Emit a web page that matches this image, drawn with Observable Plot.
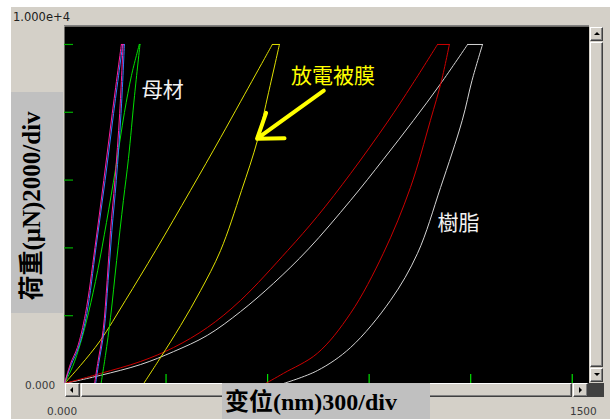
<!DOCTYPE html>
<html>
<head>
<meta charset="utf-8">
<script src="https://cdn.jsdelivr.net/npm/d3@7"></script>
<script src="https://cdn.jsdelivr.net/npm/@observablehq/plot@0.6"></script>
<style>
  body { margin: 0; background: #fff; }
  #win { position: relative; width: 610px; height: 419px; overflow: hidden; background: #fff; }
  .abs { position: absolute; }
  .num { position: absolute; font-family: "DejaVu Sans", sans-serif; font-size: 10.5px; color: #3a3a3a; line-height: 12px; white-space: nowrap; }
  .btn { position: absolute; background: #d4d0c8; box-sizing: border-box;
         border-top: 1px solid #ffffff; border-left: 1px solid #ffffff;
         border-right: 1px solid #404040; border-bottom: 1px solid #404040;
         box-shadow: inset -1px -1px 0 #808080; }
  .tri { position: absolute; width: 0; height: 0; }
  .axlbl { position: absolute; font-family: "Liberation Serif", "Noto Sans CJK SC", serif; font-weight: bold; color: #000; white-space: nowrap; }
</style>
</head>
<body>
<div id="win">
  <div class="abs" style="left:11px;top:7px;width:599px;height:412px;background:#d4d0c8"></div>
  <div class="abs" style="left:64px;top:25px;width:525px;height:1px;background:#808080"></div>
  <div id="chart" class="abs" style="left:0;top:0"></div>

  <!-- vertical scrollbar -->
  <div class="abs" style="left:589px;top:26px;width:15px;height:357px;background:#d4d0c8"></div>
  <div class="btn" style="left:590px;top:27px;width:13px;height:14px">
    <div class="tri" style="left:3px;top:4px;border-left:3px solid transparent;border-right:3px solid transparent;border-bottom:3px solid #000"></div>
  </div>
  <div class="btn" style="left:590px;top:42px;width:13px;height:325px"></div>
  <div class="btn" style="left:590px;top:368px;width:13px;height:14px">
    <div class="tri" style="left:3px;top:4px;border-left:3px solid transparent;border-right:3px solid transparent;border-top:3px solid #000"></div>
  </div>
  <!-- horizontal scrollbar -->
  <div class="abs" style="left:64px;top:383px;width:525px;height:14px;background:#d4d0c8"></div>
  <div class="btn" style="left:65px;top:383px;width:15px;height:14px">
    <div class="tri" style="left:4px;top:3px;border-top:3px solid transparent;border-bottom:3px solid transparent;border-right:3px solid #000"></div>
  </div>
  <div class="btn" style="left:81px;top:383px;width:491px;height:14px"></div>
  <div class="btn" style="left:573px;top:383px;width:15px;height:14px">
    <div class="tri" style="left:5px;top:3px;border-top:3px solid transparent;border-bottom:3px solid transparent;border-left:3px solid #000"></div>
  </div>
  <div class="abs" style="left:588px;top:383px;width:16px;height:14px;background:#404040"></div>

  <!-- numeric labels -->
  <div class="num" style="left:13px;top:11px;font-size:11.5px;color:#202020">1.000e+4</div>
  <div class="num" style="left:25px;top:379px">0.000</div>
  <div class="num" style="left:47px;top:405px">0.000</div>
  <div class="num" style="left:570px;top:405px">1500</div>

  <!-- axis label boxes -->
  <div class="abs" style="left:11px;top:92px;width:52px;height:221px;background:#c0c0c0"></div>
  <div class="axlbl" id="ylab" style="left:-78px;top:188px;width:220px;height:36px;line-height:36px;font-size:25px;text-align:center;transform:rotate(-90deg)"></div>
  <div class="abs" style="left:222px;top:383px;width:208px;height:36px;background:#c0c0c0"></div>
  <div class="axlbl" id="xlab" style="left:225px;top:386px;height:33px;line-height:33px;font-size:24px"></div>
</div>
<script>
// ---- data (displacement nm, load µN) ----
const xTitle = "变位(nm)300/div";
const yTitle = "荷重(μN)2000/div";
const xTicks = [300, 600, 900, 1200, 1500];
const yTicks = [2000, 4000, 6000, 8000, 10000];

const pinkLoad = [[0,0],[18,590],[38,1060],[62,2065],[90,4010],[116,5990],[141,7965],[168,10000]];
const pinkUnload = [[173,10000],[163,7965],[149,5990],[136,4510],[126,3040],[114,1560],[98,590],[89,0]];
const blueLoad = [[0,0],[20,560],[41,1050],[66,2065],[93,4010],[120,5990],[145,7965],[172,10000]];
const blueUnload = [[177,10000],[167,7965],[153,5990],[140,4510],[129,3040],[117,1560],[101,590],[92,0]];
const greenLoad = [[0,0],[24,500],[47,1180],[71,2090],[98,3330],[124,4750],[151,6340],[177,7990],[198,9090],[221,10000]];
const greenUnload = [[223,10000],[207,8500],[189,6640],[174,5400],[154,3630],[136,1950],[121,830],[108,0]];
const yellowLoad = [[0,0],[47,530],[106,1270],[180,2450],[269,3920],[372,5690],[461,7250],[520,8310],[564,9100],[614,10000]];
const yellowUnload = [[635,10000],[603,8590],[570,7170],[523,5690],[461,3920],[402,2740],[343,1710],[284,770],[234,0]];
const redLoad = [[0,0],[106,295],[225,650],[322,1060],[422,1650],[520,2450],[659,3920],[747,4930],[845,6190],[954,7710],[1028,8830],[1102,10000]];
const redUnload = [[1137,10000],[1114,8940],[1081,7760],[1022,5780],[942,3840],[845,2070],[747,890],[647,300],[594,0]];
const whiteLoad = [[0,0],[106,240],[225,560],[322,940],[422,1420],[520,2120],[617,2950],[721,3970],[845,5400],[942,6610],[1031,7760],[1111,8840],[1191,10000]];
const whiteUnload = [[1235,10000],[1204,8940],[1175,7760],[1111,5780],[1043,3840],[963,2450],[845,1060],[747,380],[647,0]];

const labelNames = ["母材", "放電被膜", "樹脂"];
const labelX = [290, 793, 1164];
const labelY = [8640, 9060, 4730];
const arrowFrom = [766, 8640];
const arrowTo = [569, 7220];

document.getElementById("xlab").textContent = xTitle;
document.getElementById("ylab").textContent = yTitle;

const series = [
  {load: whiteLoad, unload: whiteUnload, color: "#d4d4d4"},
  {load: redLoad, unload: redUnload, color: "#cc0000"},
  {load: yellowLoad, unload: yellowUnload, color: "#e0e000"},
  {load: greenLoad, unload: greenUnload, color: "#00e000"},
  {load: blueLoad, unload: blueUnload, color: "#2f80ff"},
  {load: pinkLoad, unload: pinkUnload, color: "#ff1f9f"}
];

const lineMarks = [];
for (const s of series) {
  const opts = {x: d => d[0], y: d => d[1], stroke: s.color, strokeWidth: 1, curve: "catmull-rom"};
  lineMarks.push(Plot.line(s.load, opts));
  lineMarks.push(Plot.line([s.load[s.load.length - 1], s.unload[0]], {x: d => d[0], y: d => d[1], stroke: s.color, strokeWidth: 1}));
  lineMarks.push(Plot.line(s.unload, opts));
}

const labels = labelNames.map((t, i) => ({t, x: labelX[i], y: labelY[i]}));

const chart = Plot.plot({
  width: 610,
  height: 419,
  marginLeft: 64,
  marginRight: 21,
  marginTop: 26,
  marginBottom: 36,
  x: {domain: [0, 1551], axis: null},
  y: {domain: [0, 10530], axis: null},
  style: {background: "transparent", overflow: "visible"},
  marks: [
    Plot.frame({fill: "black", stroke: null}),
    Plot.tickX(xTicks, {x: d => d, stroke: "#00e000", strokeWidth: 1.2, insetTop: 348}),
    Plot.tickY(yTicks, {y: d => d, stroke: "#00b000", strokeWidth: 1.2, insetRight: 516}),
    ...lineMarks,
    Plot.arrow([{}], {x1: arrowFrom[0], y1: arrowFrom[1], x2: arrowTo[0], y2: arrowTo[1], stroke: "#ffff00", strokeWidth: 4, headLength: 16, headAngle: 70}),
    Plot.text(labels, {x: "x", y: "y", text: "t", fontSize: 21, fontFamily: "Noto Sans CJK JP",
      fill: (d, i) => i === 1 ? "#ffff00" : "#f2f2f2"})
  ]
});
document.getElementById("chart").appendChild(chart);
</script>
</body>
</html>
